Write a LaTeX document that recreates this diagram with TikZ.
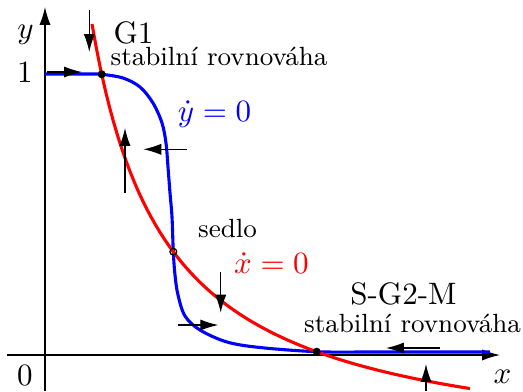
\documentclass[tikz,border=0pt]{standalone}
\usepackage{amsmath,amssymb}
\usepackage{xcolor}
\usepackage{tikz}
\usetikzlibrary{arrows.meta,positioning,calc}

\begin{document}
\begin{tikzpicture}[x=1.134cm,y=1.134cm,>={Latex[length=5.8pt,width=3.6pt]}]
  \tikzstyle{nullcline}=[line width=1pt]
  \tikzstyle{flow}=[->,line width=0.4pt]
  \tikzstyle{lbl}=[inner sep=0pt,anchor=base]
  \tikzstyle{smalllbl}=[lbl,font=\fontsize{8.5}{10}\selectfont]
  \useasboundingbox (-0.45,-0.36) rectangle (4.78,3.55);
  % axes
  \draw[->] (-0.38,0) -- (4.55,0);
  \draw[->] (0,-0.36) -- (0,3.48);
  \node[lbl] (ylbl) at (-0.195,3.165) {$y$};
  \node[lbl] (one) at (-0.20,2.73) {$1$};
  \node[lbl] (zero) at (-0.20,-0.30) {$0$};
  \node[lbl] (xlbl) at (4.575,-0.28) {$x$};
  % nullclines
  \draw[nullcline,blue] plot[smooth,tension=0.55] coordinates {(0,2.81) (0.45,2.81) (0.567,2.807) (0.78,2.77) (0.95,2.68) (1.08,2.52) (1.17,2.32) (1.21,2.12) (1.23,1.88) (1.25,1.62) (1.27,1.38) (1.283,1.033) (1.30,0.80) (1.33,0.60) (1.40,0.39) (1.55,0.25) (1.82,0.13) (2.15,0.075) (2.717,0.033) (3.3,0.03) (4.45,0.03)};
  \draw[nullcline,red,domain=0.47:4.25,samples=90] plot (\x,{3.251/(\x+0.275)-1.054});
  % equilibria
  \coordinate (g1) at (0.567,2.807);
  \coordinate (saddle) at (1.283,1.033);
  \coordinate (g2) at (2.717,0.033);
  \fill (g1) circle (1.3pt);
  \draw[line width=0.4pt] (saddle) circle (1.1pt);
  \fill (g2) circle (1.3pt);
  % direction of flow
  \draw[flow] (0.443,3.45) -- (0.443,3.03);
  \draw[flow] (0.02,2.83) -- (0.37,2.83);
  \draw[flow] (0.80,1.62) -- (0.80,2.27);
  \draw[flow] (1.417,2.057) -- (0.983,2.057);
  \draw[flow] (1.757,0.833) -- (1.757,0.423);
  \draw[flow] (1.333,0.30) -- (1.733,0.30);
  \draw[flow] (3.95,0.07) -- (3.41,0.07);
  \draw[flow] (3.81,-0.36) -- (3.81,-0.09);
  % labels
  \node[lbl,anchor=base west] (g1lbl) at (0.68,3.12) {G1};
  \node[smalllbl,anchor=base west] (g1txt) at (0.65,2.895) {stabilní rovnováha};
  \node[lbl,blue] (ydot) at (1.695,2.34) {$\dot y=0$};
  \node[smalllbl] (sedlo) at (1.825,1.18) {sedlo};
  \node[lbl,red] (xdot) at (2.265,0.82) {$\dot x=0$};
  \node[lbl] (g2lbl) at (3.585,0.51) {S-G2-M};
  \node[smalllbl] (g2txt) at (3.675,0.23) {stabilní rovnováha};
\end{tikzpicture}
\end{document}
